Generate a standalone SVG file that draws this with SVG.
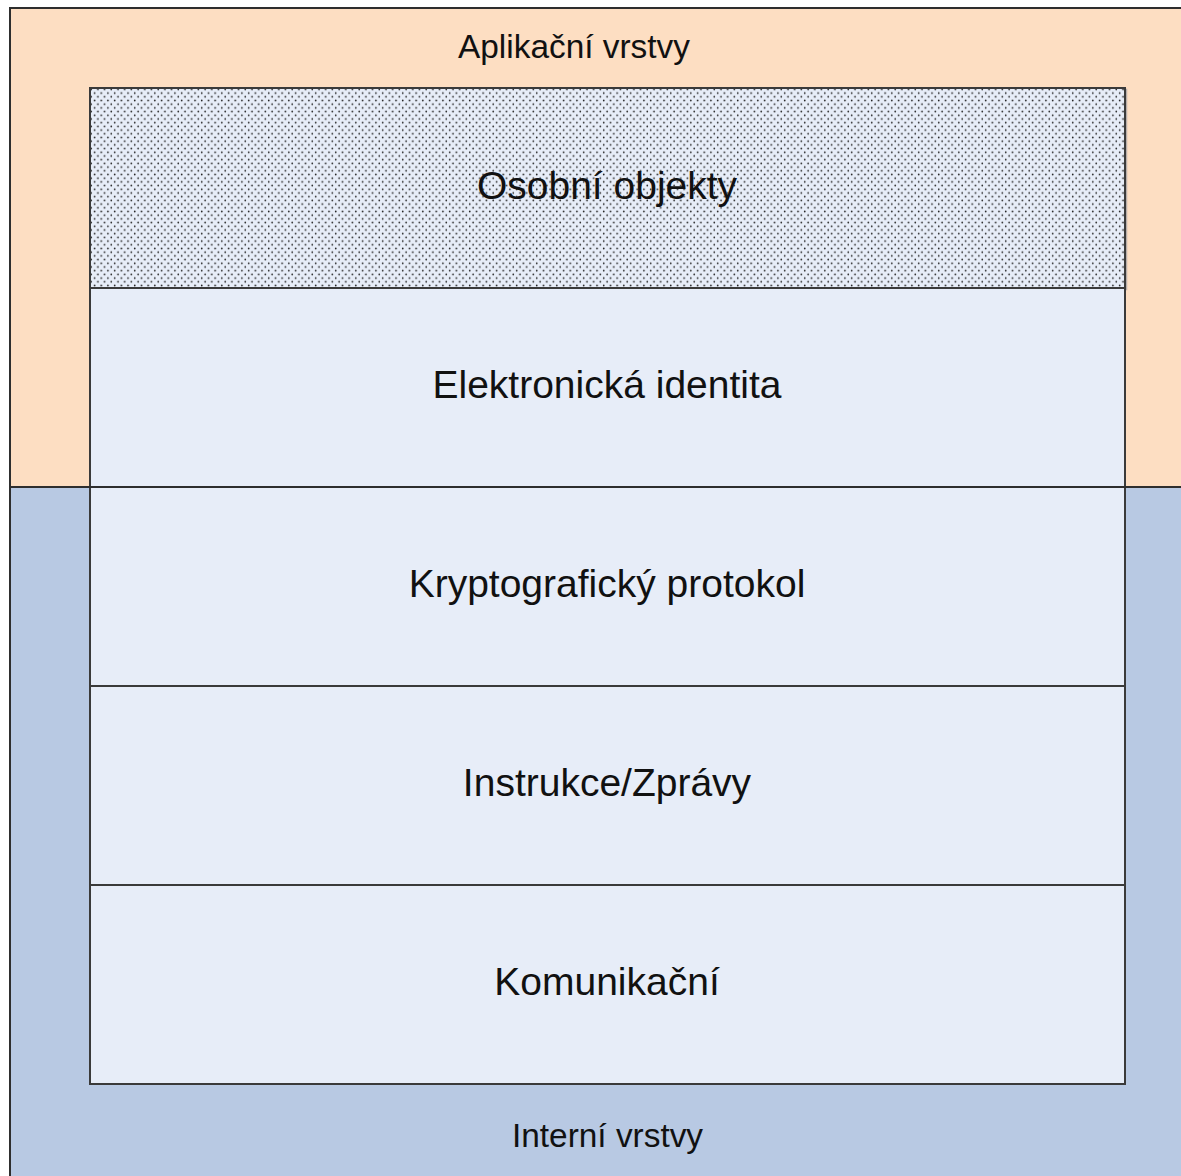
<svg xmlns="http://www.w3.org/2000/svg" width="1181" height="1176" viewBox="0 0 1181 1176">
  <defs>
    <style>
      .zone { stroke: #2e2e2e; stroke-width: 2; }
      .app { fill: #fddec2; }
      .int { fill: #b8c9e3; }
      .layer { fill: #e7edf8; stroke: #3a3a3a; stroke-width: 2; }
      .shade { fill: none; stroke: #8a8f99; stroke-width: 1.5; opacity: 0.6; }
      .lbl { font-family: "Liberation Sans", Arial, sans-serif; fill: #111; text-anchor: middle; }
      .outer { font-size: 33.4px; }
      .inner { font-size: 39px; }
    </style>
    <!-- staggered dot fill for the top layer -->
    <pattern id="dots" x="90" y="88" width="6.7" height="7.4" patternUnits="userSpaceOnUse">
      <rect width="6.7" height="7.4" fill="#e7edf8"/>
      <circle cx="1.2" cy="1.4" r="0.85" fill="#222"/>
      <circle cx="4.55" cy="5.1" r="0.85" fill="#222"/>
    </pattern>
  </defs>

  <rect width="1181" height="1176" fill="#ffffff"/>

  <!-- outer zones -->
  <g id="aplikacni-vrstvy">
    <rect class="app zone" x="10" y="8" width="1180" height="479"/>
    <text class="lbl outer" x="574" y="58">Aplikační vrstvy</text>
  </g>
  <g id="interni-vrstvy">
    <rect class="int zone" x="10" y="487" width="1180" height="700"/>
    <text class="lbl outer" x="607.5" y="1147">Interní vrstvy</text>
  </g>

  <!-- stacked layers -->
  <g id="osobni-objekty">
    <rect class="shade" x="91.5" y="89.5" width="1035" height="200"/>
    <rect class="layer" x="90" y="88" width="1035" height="200" style="fill:url(#dots)"/>
    <text class="lbl inner" x="607" y="199">Osobní objekty</text>
  </g>
  <g id="elektronicka-identita">
    <rect class="layer" x="90" y="288" width="1035" height="199"/>
    <text class="lbl inner" x="607" y="398">Elektronická identita</text>
  </g>
  <g id="kryptograficky-protokol">
    <rect class="layer" x="90" y="487" width="1035" height="199"/>
    <text class="lbl inner" x="607" y="597">Kryptografický protokol</text>
  </g>
  <g id="instrukce-zpravy">
    <rect class="layer" x="90" y="686" width="1035" height="199"/>
    <text class="lbl inner" x="607" y="796">Instrukce/Zprávy</text>
  </g>
  <g id="komunikacni">
    <rect class="layer" x="90" y="885" width="1035" height="199"/>
    <text class="lbl inner" x="607" y="995">Komunikační</text>
  </g>

  <!-- zone boundary across the full width -->
  <g id="connectors">
    <line x1="10" y1="487" x2="1181" y2="487" stroke="#2e2e2e" stroke-width="2"/>
  </g>
</svg>
